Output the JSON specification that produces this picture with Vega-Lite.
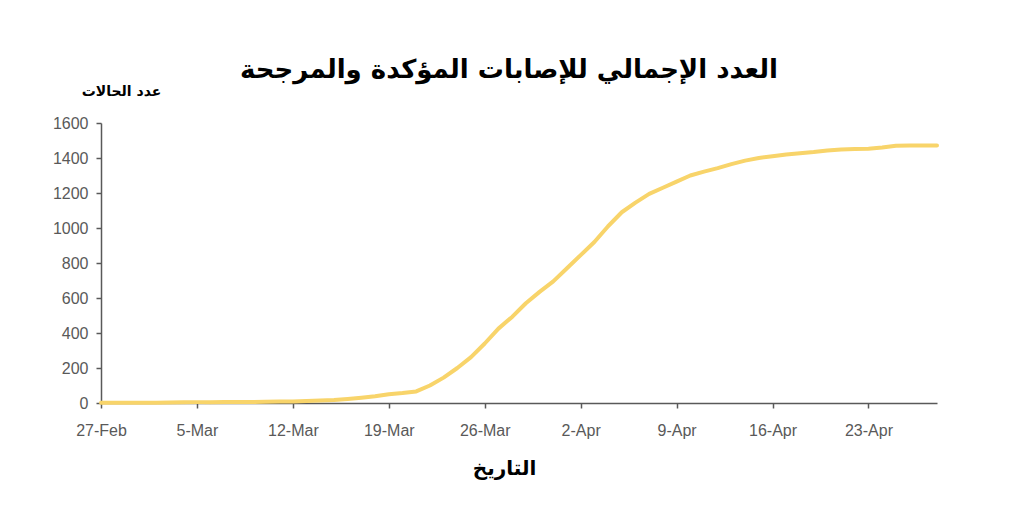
{
  "$schema": "https://vega.github.io/schema/vega-lite/v6.json",
  "width": 836,
  "height": 280,
  "autosize": "none",
  "padding": {"left": 101, "top": 123, "right": 87, "bottom": 105},
  "background": "white",
  "title": {
    "text": "العدد الإجمالي للإصابات المؤكدة والمرجحة",
    "font": "DejaVu Sans",
    "fontSize": 26,
    "fontWeight": "bold",
    "color": "#000000",
    "anchor": "middle",
    "dx": -10,
    "offset": 38,
    "dy": 37
  },
  "data": {
    "values": [
      {"date": "2020-02-27", "cases": 1},
      {"date": "2020-02-28", "cases": 1},
      {"date": "2020-02-29", "cases": 1},
      {"date": "2020-03-01", "cases": 2},
      {"date": "2020-03-02", "cases": 2},
      {"date": "2020-03-03", "cases": 3},
      {"date": "2020-03-04", "cases": 4},
      {"date": "2020-03-05", "cases": 5},
      {"date": "2020-03-06", "cases": 5},
      {"date": "2020-03-07", "cases": 6},
      {"date": "2020-03-08", "cases": 6},
      {"date": "2020-03-09", "cases": 6},
      {"date": "2020-03-10", "cases": 7},
      {"date": "2020-03-11", "cases": 8},
      {"date": "2020-03-12", "cases": 9},
      {"date": "2020-03-13", "cases": 11},
      {"date": "2020-03-14", "cases": 14},
      {"date": "2020-03-15", "cases": 17},
      {"date": "2020-03-16", "cases": 23},
      {"date": "2020-03-17", "cases": 30},
      {"date": "2020-03-18", "cases": 38},
      {"date": "2020-03-19", "cases": 50},
      {"date": "2020-03-20", "cases": 57},
      {"date": "2020-03-21", "cases": 66},
      {"date": "2020-03-22", "cases": 100},
      {"date": "2020-03-23", "cases": 145},
      {"date": "2020-03-24", "cases": 200},
      {"date": "2020-03-25", "cases": 262},
      {"date": "2020-03-26", "cases": 340},
      {"date": "2020-03-27", "cases": 425},
      {"date": "2020-03-28", "cases": 492},
      {"date": "2020-03-29", "cases": 570},
      {"date": "2020-03-30", "cases": 635},
      {"date": "2020-03-31", "cases": 695},
      {"date": "2020-04-01", "cases": 770},
      {"date": "2020-04-02", "cases": 845},
      {"date": "2020-04-03", "cases": 920},
      {"date": "2020-04-04", "cases": 1010},
      {"date": "2020-04-05", "cases": 1090},
      {"date": "2020-04-06", "cases": 1145},
      {"date": "2020-04-07", "cases": 1195},
      {"date": "2020-04-08", "cases": 1230},
      {"date": "2020-04-09", "cases": 1265},
      {"date": "2020-04-10", "cases": 1300},
      {"date": "2020-04-11", "cases": 1322},
      {"date": "2020-04-12", "cases": 1342},
      {"date": "2020-04-13", "cases": 1365},
      {"date": "2020-04-14", "cases": 1385},
      {"date": "2020-04-15", "cases": 1400},
      {"date": "2020-04-16", "cases": 1410},
      {"date": "2020-04-17", "cases": 1420},
      {"date": "2020-04-18", "cases": 1427},
      {"date": "2020-04-19", "cases": 1434},
      {"date": "2020-04-20", "cases": 1443},
      {"date": "2020-04-21", "cases": 1449},
      {"date": "2020-04-22", "cases": 1452},
      {"date": "2020-04-23", "cases": 1453},
      {"date": "2020-04-24", "cases": 1460},
      {"date": "2020-04-25", "cases": 1470},
      {"date": "2020-04-26", "cases": 1472},
      {"date": "2020-04-27", "cases": 1472},
      {"date": "2020-04-28", "cases": 1472}
    ]
  },
  "mark": {"type": "line", "color": "#F8D46A", "strokeWidth": 4, "strokeCap": "round", "strokeJoin": "round"},
  "encoding": {
    "x": {
      "field": "date",
      "type": "temporal",
      "scale": {"type": "utc", "domain": [{"year": 2020, "month": 2, "date": 27, "utc": true}, {"year": 2020, "month": 4, "date": 28, "utc": true}]},
      "axis": {
        "title": "التاريخ",
        "titleFont": "DejaVu Sans",
        "titleFontSize": 20,
        "titleFontWeight": "bold",
        "titleColor": "#000000",
        "titlePadding": 20,
        "titleX": 403,
        "values": [
          {"year": 2020, "month": 2, "date": 27, "utc": true},
          {"year": 2020, "month": 3, "date": 5, "utc": true},
          {"year": 2020, "month": 3, "date": 12, "utc": true},
          {"year": 2020, "month": 3, "date": 19, "utc": true},
          {"year": 2020, "month": 3, "date": 26, "utc": true},
          {"year": 2020, "month": 4, "date": 2, "utc": true},
          {"year": 2020, "month": 4, "date": 9, "utc": true},
          {"year": 2020, "month": 4, "date": 16, "utc": true},
          {"year": 2020, "month": 4, "date": 23, "utc": true}
        ],
        "format": "%-d-%b",
        "labelFont": "Liberation Sans Narrow, Liberation Sans",
        "labelFontSize": 16,
        "labelColor": "#595959",
        "labelPadding": 14,
        "labelOverlap": false,
        "labelFlush": false,
        "grid": false,
        "domainColor": "#595959",
        "domainWidth": 1.5,
        "tickColor": "#595959",
        "tickWidth": 1.5,
        "tickSize": 5
      }
    },
    "y": {
      "field": "cases",
      "type": "quantitative",
      "scale": {"domain": [0, 1600], "nice": false},
      "axis": {
        "title": "عدد الحالات",
        "titleFont": "DejaVu Sans",
        "titleFontSize": 14,
        "titleFontWeight": "bold",
        "titleColor": "#000000",
        "titleAngle": 0,
        "titleAlign": "center",
        "titleBaseline": "middle",
        "titleX": 20,
        "titleY": -32,
        "values": [0, 200, 400, 600, 800, 1000, 1200, 1400, 1600],
        "format": "d",
        "labelFont": "Liberation Sans Narrow, Liberation Sans",
        "labelFontSize": 16,
        "labelColor": "#595959",
        "labelPadding": 8,
        "grid": false,
        "domainColor": "#595959",
        "domainWidth": 1.5,
        "tickColor": "#595959",
        "tickWidth": 1.5,
        "tickSize": 5
      }
    }
  },
  "config": {"view": {"stroke": null}}
}
